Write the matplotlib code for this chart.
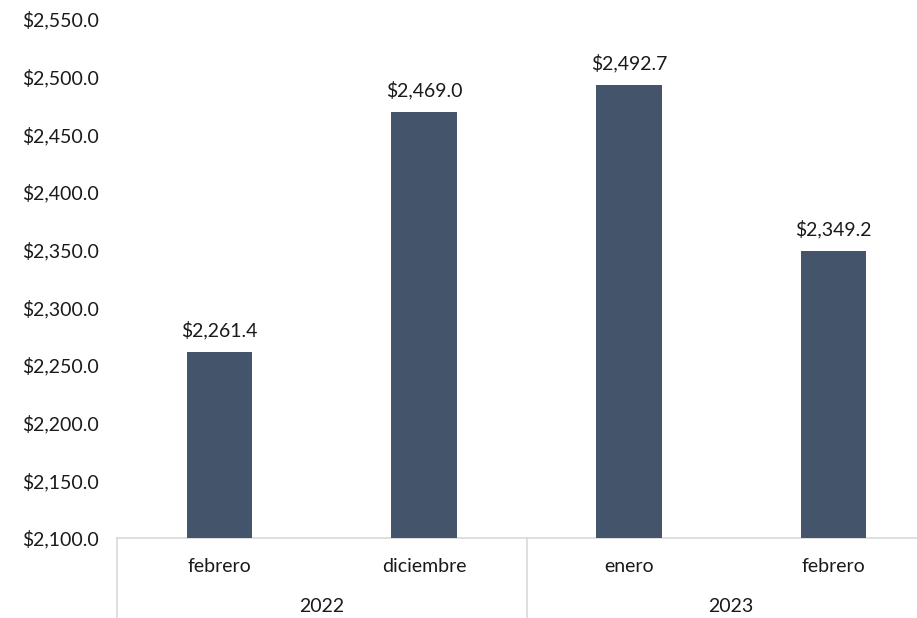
import matplotlib
matplotlib.use("Agg")
import matplotlib.pyplot as plt
from matplotlib.lines import Line2D

months = ["febrero", "diciembre", "enero", "febrero"]
years = ["2022", "2023"]
values = [2261.4, 2469.0, 2492.7, 2349.2]
yticks = [2100, 2150, 2200, 2250, 2300, 2350, 2400, 2450, 2500, 2550]

plt.rcParams['font.family'] = ['Lato', 'DejaVu Sans']
FS = 14
W, H = 917, 618
fig = plt.figure(figsize=(W/100, H/100), dpi=100)
left, right, top, bottom = 117, 936, 19, 538
ax = fig.add_axes([left/W, 1-bottom/H, (right-left)/W, (bottom-top)/H])

color = "#44546A"
x = list(range(len(values)))
ax.bar(x, values, width=0.32, color=color, zorder=3)
for xi, v in zip(x, values):
    ax.text(xi, v + 11, f"${v:,.1f}", ha="center", va="bottom", fontsize=FS, color="#1a1a1a")

ax.set_xlim(-0.5, len(values)-0.5)
ax.set_ylim(2100, 2550)
ax.set_yticks(yticks)
ax.set_yticklabels([f"${t:,.1f}" for t in yticks], fontsize=FS, color="#1a1a1a")
ax.tick_params(axis="y", length=0, pad=13)
ax.set_xticks([])
for s in ["top", "right", "left"]:
    ax.spines[s].set_visible(False)
ax.spines["bottom"].set_color("#d9d9d9")
ax.spines["bottom"].set_linewidth(1.2)

trans = ax.get_xaxis_transform()
axh = bottom - top
for xi, m in zip(x, months):
    ax.text(xi, -(567-bottom)/axh, m, transform=trans, ha="center", va="center", fontsize=FS, color="#1a1a1a")
for i, yr in enumerate(years):
    ax.text(0.5 + 2*i, -(606-bottom)/axh, yr, transform=trans, ha="center", va="center", fontsize=FS, color="#1a1a1a")

for xs in [-0.5, 1.5, 3.5]:
    ax.add_line(Line2D([xs, xs], [0, -(H-bottom+5)/axh], transform=trans, color="#d9d9d9", lw=1.2, clip_on=False))

fig.savefig("out.png", dpi=100)
